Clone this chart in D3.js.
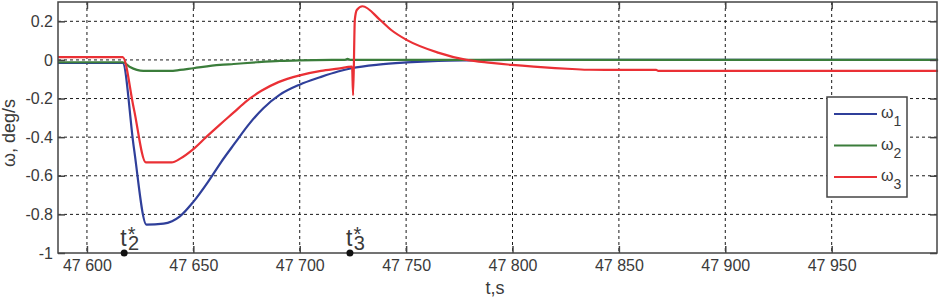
<!DOCTYPE html>
<html>
<head>
<meta charset="utf-8">
<script src="https://cdn.jsdelivr.net/npm/d3@7"></script>
<style>
  body { margin: 0; background: #fff; }
  text { font-family: 'Liberation Sans', Arial, sans-serif; fill: #3a3a3a; }
</style>
</head>
<body>
<div id="chart"></div>
<script>
// time stamps (s) and angular rates (deg/s)
const timeW1 = [47586.4, 47616.8, 47622, 47628, 47636, 47640, 47643.7, 47650, 47657, 47663, 47669.6, 47676, 47682.9, 47690.7, 47700, 47709.5, 47718, 47724.4, 47737, 47750.2, 47765, 47780, 47800, 48000];
const valW1  = [-0.016, -0.016, -0.45, -0.853, -0.848, -0.835, -0.81, -0.735, -0.63, -0.53, -0.43, -0.335, -0.25, -0.18, -0.128, -0.09, -0.06, -0.043, -0.024, -0.013, -0.005, -0.002, 0, 0];

const timeW2 = [47586.4, 47616.8, 47620, 47626.5, 47639, 47643.7, 47650, 47662.5, 47669, 47680, 47690.7, 47700, 47715, 47721, 47722.5, 47724, 48000];
const valW2  = [-0.012, -0.012, -0.035, -0.057, -0.057, -0.052, -0.043, -0.026, -0.021, -0.012, -0.005, -0.002, 0, 0, 0.005, 0, 0];

const timeW3 = [47586.4, 47616.8, 47622, 47627.7, 47639.8, 47644, 47650, 47656, 47662.5, 47669, 47675, 47682, 47690, 47700, 47710, 47718, 47724.6, 47725.1, 47725.9, 47726.9, 47729.5, 47737.6, 47743, 47750.2, 47765, 47778.4, 47790, 47799.8, 47810, 47820, 47828, 47836.3, 47867.5, 47868.5, 48000];
const valW3  = [0.014, 0.014, -0.25, -0.531, -0.531, -0.51, -0.462, -0.4, -0.335, -0.272, -0.213, -0.16, -0.115, -0.08, -0.057, -0.045, -0.035, -0.183, 0.209, 0.26, 0.278, 0.209, 0.155, 0.104, 0.038, 0, -0.015, -0.026, -0.035, -0.042, -0.047, -0.051, -0.052, -0.057, -0.057];

const seriesNames = ['1', '2', '3'];
const seriesColors = ['#2f3f9a', '#3b7d3b', '#ea3035'];

const xTicks = [47600, 47650, 47700, 47750, 47800, 47850, 47900, 47950];
const yTicks = [-1, -0.8, -0.6, -0.4, -0.2, 0, 0.2];

// event markers t2*, t3*
const eventTimes = [47617.5, 47723.6];
const eventIdx = ['2', '3'];

const config = {
    containerWidth: 945,
    containerHeight: 299,
    margin: { top: 2, right: 8, bottom: 46, left: 58 }
};

const width = config.containerWidth - config.margin.left - config.margin.right;
const height = config.containerHeight - config.margin.top - config.margin.bottom;

const svg = d3.select('#chart').append('svg')
    .attr('width', config.containerWidth)
    .attr('height', config.containerHeight);

const chart = svg.append('g')
    .attr('transform', `translate(${config.margin.left},${config.margin.top})`);

const xScale = d3.scaleLinear()
    .domain([47586.4, 47999.5])
    .range([0, width]);

const yScale = d3.scaleLinear()
    .domain([-1, 0.3])
    .range([height, 0]);

// dotted grid
chart.append('g')
    .selectAll('line')
    .data(xTicks)
    .join('line')
    .attr('x1', d => xScale(d)).attr('x2', d => xScale(d))
    .attr('y1', 0).attr('y2', height)
    .attr('stroke', '#1a1a1a').attr('stroke-width', 1)
    .attr('stroke-dasharray', '3,3');

chart.append('g')
    .selectAll('line')
    .data(yTicks.filter(d => d > -1))
    .join('line')
    .attr('x1', 0).attr('x2', width)
    .attr('y1', d => yScale(d)).attr('y2', d => yScale(d))
    .attr('stroke', '#1a1a1a').attr('stroke-width', 1)
    .attr('stroke-dasharray', '3,3');

// lines
const line = d3.line()
    .x(d => xScale(d[0]))
    .y(d => yScale(d[1]))
    .curve(d3.curveMonotoneX);

const allSeries = [
    d3.zip(timeW1, valW1),
    d3.zip(timeW2, valW2),
    d3.zip(timeW3, valW3)
];

chart.append('g')
    .selectAll('path')
    .data(allSeries)
    .join('path')
    .attr('d', line)
    .attr('fill', 'none')
    .attr('stroke', (d, i) => seriesColors[i])
    .attr('stroke-width', 2.2)
    .attr('stroke-linejoin', 'round');

// axes: ticks inward on all four sides, labels bottom / left
const fmtX = d => d3.format(',')(d).replace(',', ' ');
const fmtY = d => String(+d.toFixed(1));

const xAxis = d3.axisBottom(xScale).tickValues(xTicks).tickSize(-7).tickPadding(7).tickFormat(fmtX);
const yAxis = d3.axisLeft(yScale).tickValues(yTicks).tickSize(-7).tickPadding(5).tickFormat(fmtY);

chart.append('g')
    .attr('transform', `translate(0,${height})`)
    .call(xAxis)
    .call(g => g.select('.domain').remove())
    .call(g => g.selectAll('line').attr('stroke', '#444').attr('stroke-width', 1.5))
    .call(g => g.selectAll('text').style('font-size', '16px').attr('fill', '#3a3a3a'));

chart.append('g')
    .call(yAxis)
    .call(g => g.select('.domain').remove())
    .call(g => g.selectAll('line').attr('stroke', '#444').attr('stroke-width', 1.5))
    .call(g => g.selectAll('text').style('font-size', '16px').attr('fill', '#3a3a3a'));

chart.append('g')
    .call(d3.axisTop(xScale).tickValues(xTicks).tickSize(-7).tickFormat(''))
    .call(g => g.select('.domain').remove())
    .call(g => g.selectAll('line').attr('stroke', '#444').attr('stroke-width', 1.5));

chart.append('g')
    .attr('transform', `translate(${width},0)`)
    .call(d3.axisRight(yScale).tickValues(yTicks).tickSize(-7).tickFormat(''))
    .call(g => g.select('.domain').remove())
    .call(g => g.selectAll('line').attr('stroke', '#444').attr('stroke-width', 1.5));

// frame
chart.append('rect')
    .attr('width', width).attr('height', height)
    .attr('fill', 'none')
    .attr('stroke', '#444').attr('stroke-width', 1.5);

// axis titles
svg.append('text')
    .attr('x', 495)
    .attr('y', 294)
    .attr('text-anchor', 'middle')
    .style('font-size', '18px')
    .text('t,s');

svg.append('text')
    .attr('transform', 'translate(15,133) rotate(-90)')
    .attr('text-anchor', 'middle')
    .style('font-size', '18px')
    .text('ω, deg/s');

// event markers
const ev = chart.append('g')
    .selectAll('g')
    .data(eventTimes)
    .join('g')
    .attr('transform', d => `translate(${xScale(d)},${height})`);

ev.append('circle')
    .attr('r', 3.5)
    .attr('fill', '#111');

const evText = ev.append('text')
    .attr('x', -4)
    .attr('y', -7)
    .style('font-size', '23px')
    .attr('fill', '#222');
evText.append('tspan').text('t');
evText.append('tspan')
    .attr('dx', 1.5)
    .attr('dy', 4)
    .style('font-size', '20px')
    .text((d, i) => eventIdx[i]);

// the star sits above the subscript
ev.append('text')
    .attr('x', 3.5)
    .attr('y', -12)
    .style('font-size', '20px')
    .attr('fill', '#222')
    .text('*');

// legend
const legend = svg.append('g')
    .attr('transform', 'translate(827,97)');

legend.append('rect')
    .attr('width', 80).attr('height', 100)
    .attr('fill', '#fff')
    .attr('stroke', '#444').attr('stroke-width', 1.5);

const legendItem = legend.selectAll('.legend-item')
    .data(seriesNames)
    .join('g')
    .attr('class', 'legend-item')
    .attr('transform', (d, i) => `translate(0,${17 + i * 31.5})`);

legendItem.append('line')
    .attr('x1', 7).attr('x2', 50)
    .attr('stroke', (d, i) => seriesColors[i])
    .attr('stroke-width', 2);

const legendText = legendItem.append('text')
    .attr('x', 54)
    .attr('y', 4)
    .style('font-size', '16px');
legendText.append('tspan').text('ω');
legendText.append('tspan')
    .attr('dy', 8)
    .style('font-size', '14px')
    .text(d => d);
</script>
</body>
</html>
